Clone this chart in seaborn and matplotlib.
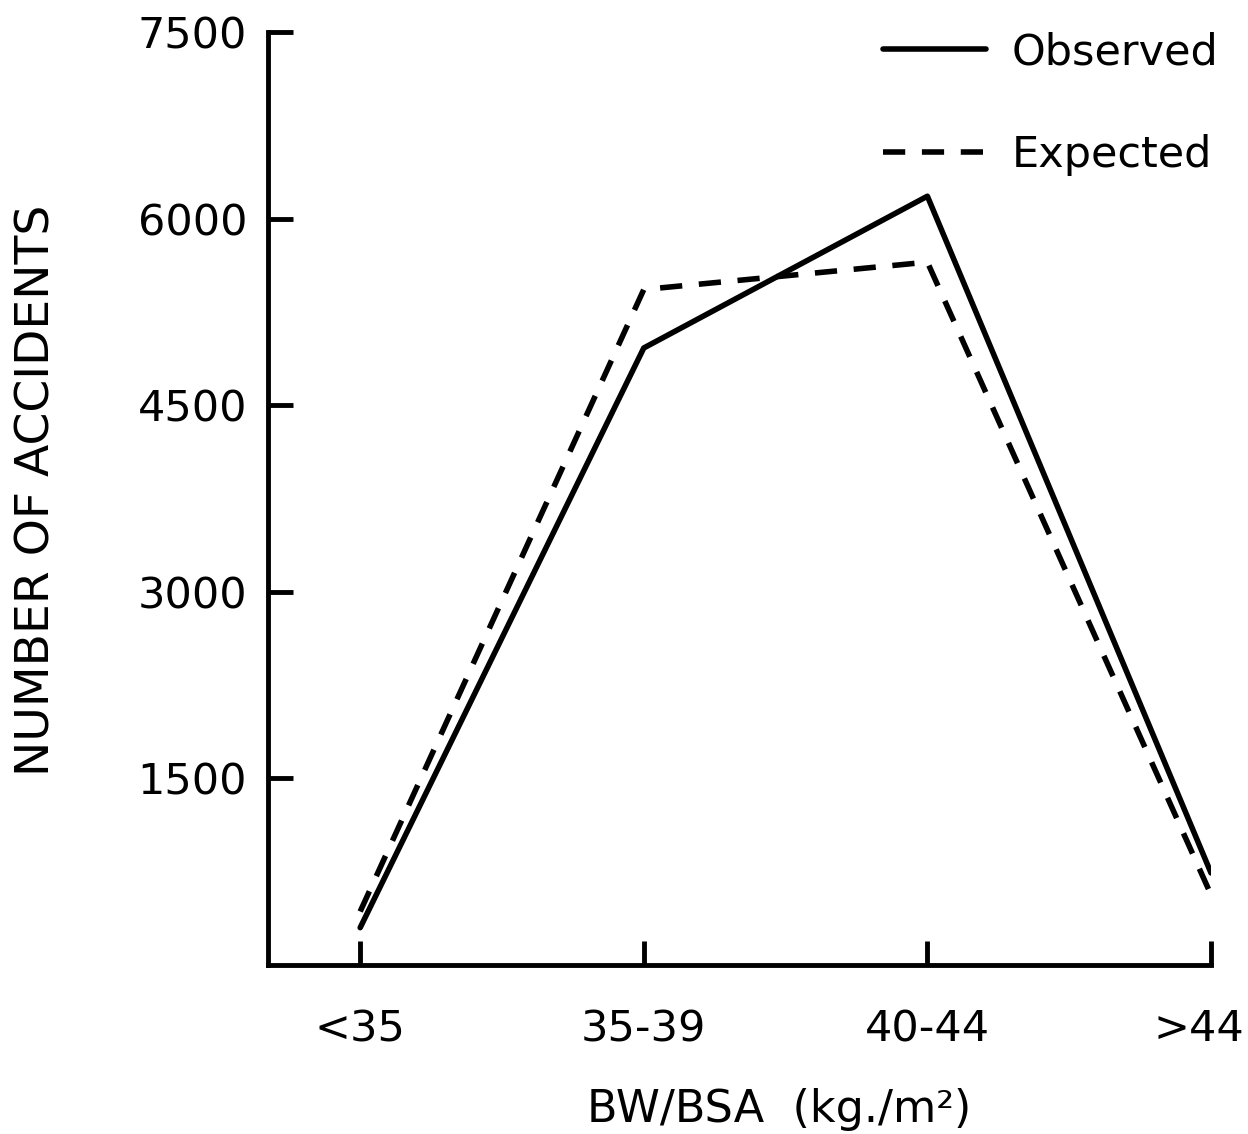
import pandas as pd
import matplotlib
matplotlib.use("Agg")
import matplotlib.pyplot as plt
import matplotlib.transforms as mtransforms
import seaborn as sns

# values
groups = ["<35", "35-39", "40-44", ">44"]
observed = [300, 4960, 6180, 740]
expected = [430, 5430, 5650, 565]
yticks = [1500, 3000, 4500, 6000, 7500]

df = pd.DataFrame({"group": groups * 2,
                   "count": observed + expected,
                   "series": ["Observed"] * 4 + ["Expected"] * 4})

sns.set_style("ticks")
plt.rcParams["font.family"] = ["DejaVu Sans"]
for key in ["text.color", "axes.labelcolor", "xtick.color", "ytick.color", "axes.edgecolor"]:
    plt.rcParams[key] = "black"

fig = plt.figure(figsize=(12.48, 11.34), dpi=100)
ax = fig.add_axes([268 / 1248, 1 - 965 / 1134, (1211 - 268) / 1248, (965 - 32) / 1134])

sns.lineplot(data=df, x="group", y="count", style="series", color="black",
             style_order=["Observed", "Expected"],
             dashes={"Observed": "", "Expected": (4, 3)},
             linewidth=4, sort=False, ax=ax)

ax.set_xlim(-0.325, 3)
ax.set_ylim(0, 7500)
ax.set_yticks(yticks)
ax.set_xticks(range(len(groups)))
ax.set_xticklabels(groups)

for side in ["top", "right"]:
    ax.spines[side].set_visible(False)
for side in ["left", "bottom"]:
    ax.spines[side].set_linewidth(3.5)

ax.tick_params(axis="y", direction="in", length=18, width=3.5, pad=15, labelsize=31)
ax.tick_params(axis="x", direction="in", length=17, width=3.5, pad=31, labelsize=31)

# keep the last category label inside the canvas
last = ax.get_xticklabels()[-1]
last.set_transform(last.get_transform() + mtransforms.ScaledTranslation(-12 / 100, 0, fig.dpi_scale_trans))

ax.set_ylabel("NUMBER OF ACCIDENTS", fontsize=34)
ax.yaxis.set_label_coords(-0.221, 0.509)
ax.set_xlabel("BW/BSA  (kg./m\u00b2)", fontsize=32)
ax.xaxis.set_label_coords(0.542, -0.132)

handles, labels = ax.get_legend_handles_labels()
ax.legend(handles, labels, loc="upper right", bbox_to_anchor=(1240 / 1248, 1 - 10 / 1134),
          bbox_transform=fig.transFigure, frameon=False, fontsize=31,
          handlelength=2.4, handletextpad=0.6, labelspacing=1.4, borderpad=0)

fig.savefig("out.png", dpi=100)
